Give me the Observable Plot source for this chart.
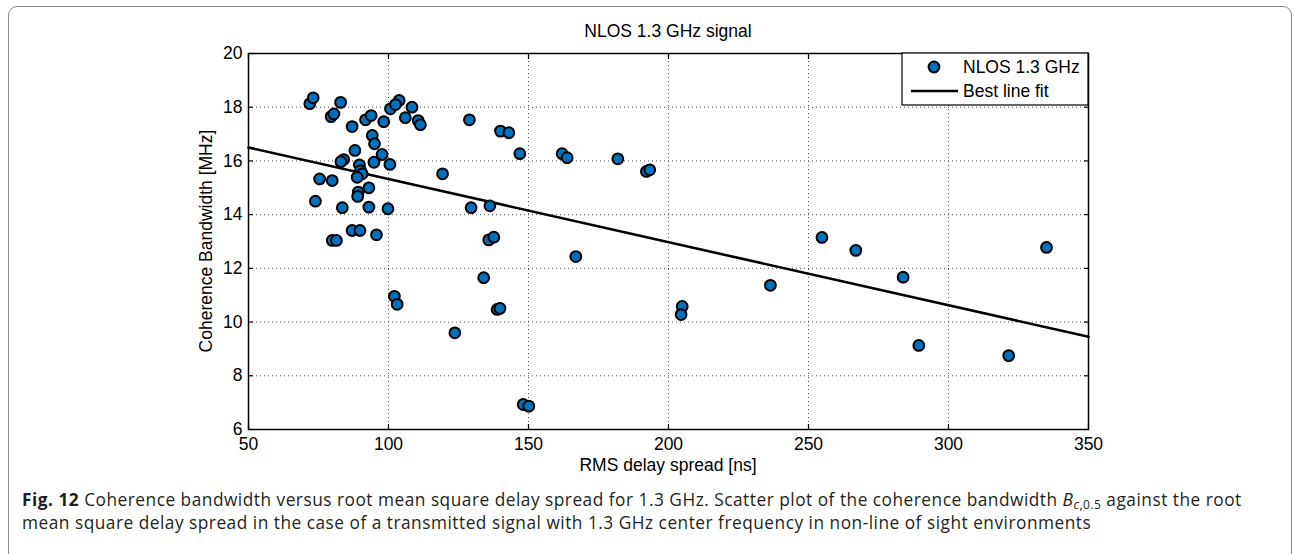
<!DOCTYPE html>
<html>
<head>
<meta charset="utf-8">
<script src="https://cdn.jsdelivr.net/npm/d3@7"></script>
<script src="https://cdn.jsdelivr.net/npm/@observablehq/plot@0.6"></script>
<style>
  body { margin: 0; background: #fff; }
  #page { position: relative; width: 1294px; height: 554px; overflow: hidden; font-family: "Liberation Sans", Arial, sans-serif; color: #000; }
  #border { position: absolute; left: 8px; top: 6px; width: 1284px; height: 570px; border: 1px solid #8a8a8a; border-radius: 9px; box-sizing: border-box; }
  #chart { position: absolute; left: 0; top: 0; }
  .lbl { position: absolute; font-size: 17.5px; line-height: 20px; white-space: nowrap; text-align: center; }
  #title { left: 468px; width: 400px; top: 21px; }
  #xlabel { left: 468px; width: 400px; top: 455px; }
  #ylabel { left: 206px; top: 241px; transform: translate(-50%, -50%) rotate(-90deg); }
  #caption { position: absolute; left: 22px; top: 488px; font-family: "Open Sans", sans-serif; font-size: 17.3px; line-height: 23px; color: #231f20; white-space: nowrap; letter-spacing: 0.5px; }
  #caption b { font-weight: 700; color: #231f20; }
  #caption sub { font-size: 12px; vertical-align: -3px; line-height: 0; }
</style>
</head>
<body>
<div id="page">
  <div id="border"></div>
  <div id="chart"></div>
  <div class="lbl" id="title">NLOS 1.3 GHz signal</div>
  <div class="lbl" id="xlabel">RMS delay spread [ns]</div>
  <div class="lbl" id="ylabel">Coherence Bandwidth [MHz]</div>
  <div id="caption"><b>Fig. 12</b> Coherence bandwidth versus root mean square delay spread for 1.3 GHz. Scatter plot of the coherence bandwidth <i>B</i><sub><i>c</i>,0.5</sub> against the root<br>mean square delay spread in the case of a transmitted signal with 1.3 GHz center frequency in non-line of sight environments</div>
</div>
<script>
// RMS delay spread of each NLOS measurement [ns]
const delaySpread = [
  71.9, 73.1, 82.9, 79.5, 80.5, 87.0, 91.8, 93.8, 98.3, 100.7,
  103.8, 102.5, 108.4, 106.0, 110.6, 111.4, 94.2, 95.0, 88.0, 97.7,
  84.0, 83.0, 94.8, 100.5, 89.6, 90.0, 90.6, 88.8, 75.4, 79.9,
  93.0, 89.2, 89.0, 73.9, 83.5, 93.0, 99.8, 119.3, 87.0, 89.8,
  95.7, 79.9, 81.4, 102.1, 103.1, 123.7, 128.9, 140.0, 143.0, 146.9,
  162.0, 163.8, 181.9, 192.1, 193.3, 129.5, 136.2, 135.8, 137.6, 166.9,
  134.0, 138.8, 139.8, 148.1, 150.1, 204.9, 204.5, 254.8, 266.9, 236.4,
  283.8, 335.0, 289.4, 321.5
];
// Coherence bandwidth B_c,0.5 of each measurement [MHz]
const coherenceBw = [
  18.13, 18.35, 18.18, 17.65, 17.75, 17.28, 17.53, 17.69, 17.46, 17.94,
  18.25, 18.10, 18.00, 17.61, 17.50, 17.35, 16.95, 16.64, 16.39, 16.24,
  16.05, 15.97, 15.95, 15.87, 15.85, 15.64, 15.52, 15.39, 15.33, 15.27,
  15.00, 14.84, 14.68, 14.50, 14.26, 14.28, 14.22, 15.52, 13.41, 13.41,
  13.25, 13.04, 13.04, 10.96, 10.66, 9.60, 17.53, 17.11, 17.05, 16.27,
  16.27, 16.12, 16.08, 15.61, 15.67, 14.26, 14.33, 13.06, 13.16, 12.44,
  11.65, 10.47, 10.51, 6.93, 6.87, 10.58, 10.28, 13.15, 12.67, 11.37,
  11.67, 12.78, 9.13, 8.75
];
// Best line fit, evaluated at the ends of the delay axis
const fitDelay = [50, 350];
const fitBw = [16.5, 9.45];

const xTicks = [50, 100, 150, 200, 250, 300, 350];
const yTicks = [6, 8, 10, 12, 14, 16, 18, 20];

const points = delaySpread.map((d, i) => ({delay: d, bw: coherenceBw[i]}));
const fit = fitDelay.map((d, i) => ({delay: d, bw: fitBw[i]}));

const W = 1294, H = 480;
const mL = 248, mR = 206, mT = 53, mB = 51;
const dotFill = "#0072bd";
const dotR = 5.4;
const gridStyle = {stroke: "#3a3a3a", strokeOpacity: 0.9, strokeDasharray: "1,3", strokeWidth: 1};

const plot = Plot.plot({
  width: W, height: H,
  marginLeft: mL, marginRight: mR, marginTop: mT, marginBottom: mB,
  style: {fontFamily: "'Liberation Sans', Arial, sans-serif", fontSize: "17.5px", color: "#000", background: "transparent", overflow: "visible"},
  x: {domain: [50, 350]},
  y: {domain: [6, 20]},
  marks: [
    Plot.gridX(xTicks.slice(1, -1), gridStyle),
    Plot.gridY(yTicks.slice(1, -1), gridStyle),
    // tick labels
    Plot.axisX(xTicks, {anchor: "bottom", tickSize: 0, tickPadding: 8, label: null}),
    Plot.axisY(yTicks, {anchor: "left", tickSize: 0, tickPadding: 6, label: null}),
    // inward tick marks on all four sides
    Plot.axisX(xTicks, {anchor: "bottom", tickSize: -5, tickFormat: () => "", label: null, strokeWidth: 1.2}),
    Plot.axisX(xTicks, {anchor: "top", tickSize: -5, tickFormat: () => "", label: null, strokeWidth: 1.2}),
    Plot.axisY(yTicks, {anchor: "left", tickSize: -5, tickFormat: () => "", label: null, strokeWidth: 1.2}),
    Plot.axisY(yTicks, {anchor: "right", tickSize: -5, tickFormat: () => "", label: null, strokeWidth: 1.2}),
    Plot.line(fit, {x: "delay", y: "bw", stroke: "#000", strokeWidth: 2.6}),
    Plot.dot(points, {x: "delay", y: "bw", r: dotR, fill: dotFill, stroke: "#000", strokeWidth: 2}),
    Plot.frame({stroke: "#000", strokeWidth: 1.5})
  ]
});

// Legend box in the top-right corner of the axes
const svg = d3.select(plot);
const right = W - mR;
const lg = svg.append("g")
  .attr("font-family", "'Liberation Sans', Arial, sans-serif")
  .attr("font-size", "17.5px")
  .attr("text-anchor", "start");
lg.append("rect").attr("x", right - 186).attr("y", mT).attr("width", 186).attr("height", 52)
  .attr("fill", "#fff").attr("stroke", "#000").attr("stroke-width", 1.2);
lg.append("circle").attr("cx", right - 154).attr("cy", mT + 14).attr("r", dotR)
  .attr("fill", dotFill).attr("stroke", "#000").attr("stroke-width", 2);
lg.append("text").attr("x", right - 125).attr("y", mT + 14).attr("dy", "0.35em")
  .attr("text-anchor", "start").text("NLOS 1.3 GHz");
lg.append("line").attr("x1", right - 177).attr("x2", right - 130).attr("y1", mT + 38).attr("y2", mT + 38)
  .attr("stroke", "#000").attr("stroke-width", 2.6);
lg.append("text").attr("x", right - 125).attr("y", mT + 38).attr("dy", "0.35em")
  .attr("text-anchor", "start").text("Best line fit");

document.getElementById("chart").appendChild(plot);
</script>
</body>
</html>
